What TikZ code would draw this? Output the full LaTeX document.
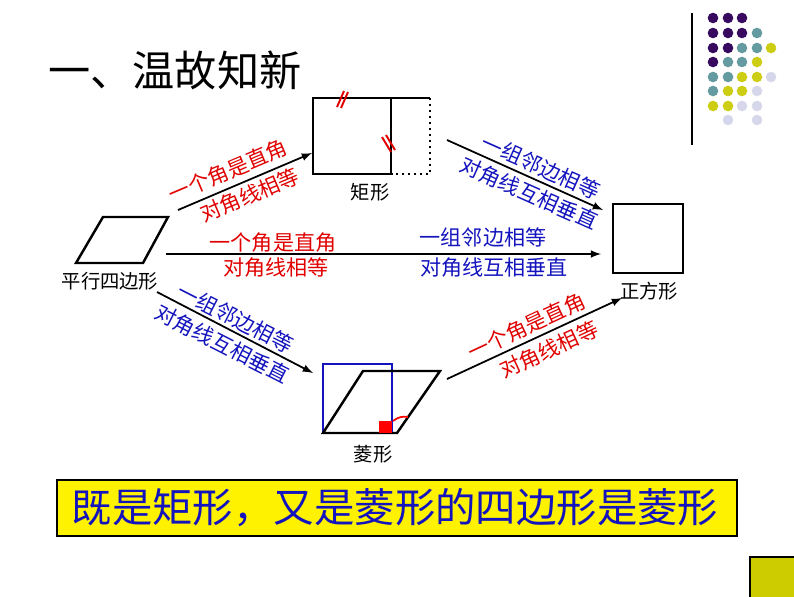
\documentclass[tikz,border=0pt]{standalone}
\usepackage{fontspec}
\newfontfamily\cjk{Noto Sans CJK SC}
\definecolor{redtxt}{RGB}{225,0,0}
\definecolor{bluetxt}{RGB}{20,20,190}
\definecolor{dotP}{RGB}{55,10,95}
\definecolor{dotT}{RGB}{100,155,160}
\definecolor{dotY}{RGB}{205,205,20}
\definecolor{dotL}{RGB}{215,215,235}
\definecolor{olive}{RGB}{204,204,0}
\tikzset{
  shapeline/.style={line width=1.4pt},
  arrowline/.style={line width=1pt,-latex},
  redlab/.style={text=redtxt,font=\cjk\fontsize{12}{17.5}\selectfont,inner sep=0pt},
  bluelab/.style={text=bluetxt,font=\cjk\fontsize{12}{16.5}\selectfont,inner sep=0pt},
  namelab/.style={font=\cjk\fontsize{11}{13}\selectfont,inner sep=0pt},
  tick/.style={redtxt,line width=1.1pt}
}

\begin{document}
\begin{tikzpicture}[x=0.02cm,y=-0.02cm]
    \useasboundingbox (0,0) rectangle (794,596);
    \fill[white] (0,0) rectangle (794,596);

    \node[font=\cjk\fontsize{24}{28}\selectfont,anchor=west,inner sep=0pt] (title) at (48,70) {一、温故知新};

    \draw[line width=0.8pt] (692,13) -- (692,145);
    \foreach \c/\x/\y in {dotP/713/18,dotP/728/18,dotP/742/18,
                          dotP/713/33,dotP/728/33,dotP/742/33,dotT/757/33,
                          dotP/713/48,dotP/728/48,dotT/742/48,dotT/757/48,dotY/771/48,
                          dotP/713/62,dotT/728/62,dotT/742/62,dotY/757/62,
                          dotT/713/77,dotT/728/77,dotY/742/77,dotY/757/77,dotL/771/77,
                          dotT/713/91,dotY/728/91,dotY/742/91,dotL/757/91,
                          dotY/713/106,dotY/728/106,dotL/742/106,dotL/757/106,
                          dotL/728/120,dotL/757/120}
        \fill[\c] (\x,\y) circle (5.3);

    % parallelogram
    \draw[shapeline] (103,217) -- (168,217) -- (143,263) -- (76,263) -- cycle;
    \node[namelab] (para) at (110,281) {平行四边形};

    % rectangle
    \draw[shapeline] (391,98) -- (313,98) -- (313,174) -- (391,174) -- cycle;
    \draw[shapeline] (391,98) -- (430,98);
    \draw[line width=1.4pt,dotted] (430,98) -- (430,174) -- (391,174);
    \draw[tick] (337,107) -- (344,91);
    \draw[tick] (341,108) -- (348,92);
    \draw[tick] (382,137) -- (391,152);
    \draw[tick] (386,135) -- (395,150);
    \node[namelab] (rect) at (370,192) {矩形};

    % rhombus
    \draw[bluetxt,line width=1.2pt] (323,364) rectangle (392,433);
    \draw[shapeline] (323,433) -- (397,433) -- (440,371) -- (363,371) -- cycle;
    \fill[red] (379,421) rectangle (392,433);
    \draw[red,line width=1pt] (393,421) .. controls (398,417) and (403,416) .. (408,417);
    \node[namelab] (rhom) at (373,454) {菱形};

    % square
    \draw[shapeline] (613,204) rectangle (683,273);
    \node[namelab] (sq) at (649,291) {正方形};

    \coordinate (a1) at (178,210);
    \coordinate (b1) at (312,153);
    \coordinate (a2) at (166,254);
    \coordinate (b2) at (601,254);
    \coordinate (a3) at (447,140);
    \coordinate (b3) at (603,210);
    \coordinate (a4) at (157,292);
    \coordinate (b4) at (313,373);
    \coordinate (a5) at (447,379);
    \coordinate (b5) at (622,298);
    \draw[arrowline] (a1) -- (b1);
    \draw[arrowline] (a2) -- (b2);
    \draw[arrowline] (a3) -- (b3);
    \draw[arrowline] (a4) -- (b4);
    \draw[arrowline] (a5) -- (b5);

    \node[redlab,rotate=23,align=right] (l1) at (234,185) {一个角是直角\\对角线相等};
    \node[redlab] (l2a) at (273,243) {一个角是直角};
    \node[redlab] (l2b) at (276,268) {对角线相等};
    \node[bluelab] (l2c) at (483,237) {一组邻边相等};
    \node[bluelab] (l2d) at (494,268) {对角线互相垂直};
    \node[bluelab,rotate=-24,align=center] (l3) at (535,180) {一组邻边相等\\对角线互相垂直};
    \node[bluelab,rotate=-27,align=center] (l4) at (229,331) {一组邻边相等\\对角线互相垂直};
    \node[redlab,rotate=25,align=right] (l5) at (533,340) {一个角是直角\\对角线相等};

    \draw[fill=yellow,line width=0.6pt] (57,480) rectangle (737,536);
    \node[text=bluetxt,font=\cjk\fontsize{23}{27}\selectfont,inner sep=0pt] (concl) at (395,508) {既是矩形，又是菱形的四边形是菱形};

    \draw[fill=olive,line width=0.6pt] (750,557) rectangle (796,598);
\end{tikzpicture}
\end{document}
